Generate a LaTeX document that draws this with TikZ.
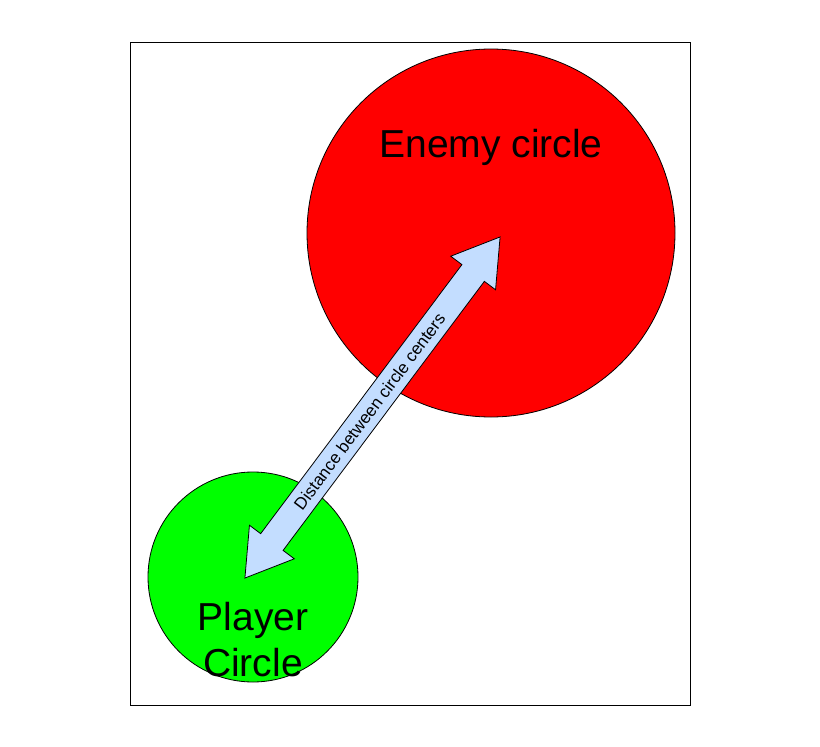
\documentclass[tikz,border=0pt]{standalone}
\usepackage{fontspec}
\setmainfont{Liberation Sans}
\begin{document}
\begin{tikzpicture}[x=1pt,y=-1pt,
  circ/.style={circle,draw=black,line width=0.8pt,inner sep=0pt},
  lbl/.style={font=\fontsize{39}{46}\selectfont,align=center}]
\useasboundingbox (0,0) rectangle (820,747);
\fill[white] (0,0) rectangle (820,747);
\node[draw=black,line width=0.8pt,minimum width=560pt,minimum height=663pt,inner sep=0pt] (frame) at (410,373.5) {};
\node[circ,fill=red,minimum size=368pt] (enemy) at (491,233) {};
\node[circ,fill=green,minimum size=210pt] (player) at (253,577) {};
\node[lbl] (et) at (491,147) {Enemy circle};
\node[lbl] (pt) at (253,640) {Player\\Circle};
\begin{scope}[shift={(372.5,407.5)},rotate=53.2]
\draw[fill=blue!15!white!90!cyan,line width=0.8pt]
 (-213,0) -- (-168,-28) -- (-168,-14) -- (168,-14) -- (168,-28) -- (213,0)
 -- (168,28) -- (168,14) -- (-168,14) -- (-168,28) -- cycle;
\node[font=\fontsize{17}{19}\selectfont,rotate=53.2] (dl) at (-5,0) {Distance between circle centers};
\end{scope}
\end{tikzpicture}
\end{document}
